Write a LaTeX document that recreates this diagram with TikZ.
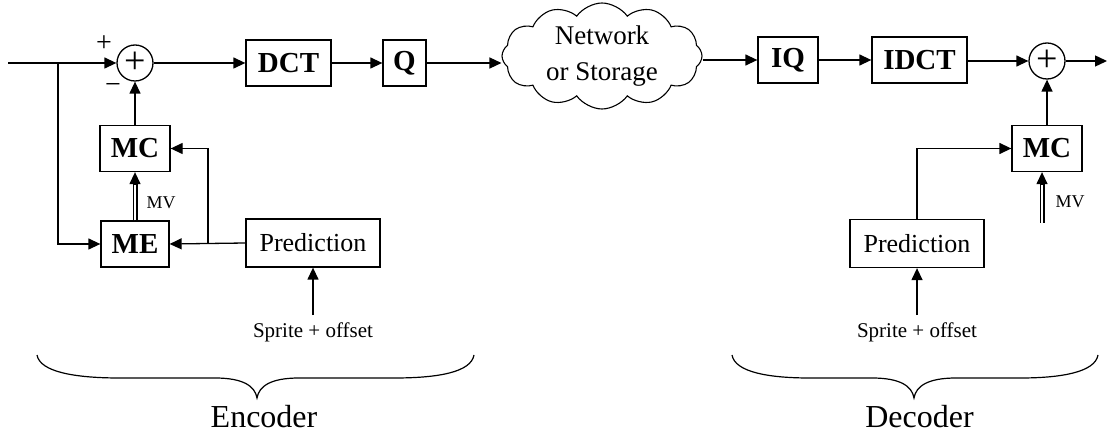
\documentclass[tikz,border=0pt]{standalone}
\usepackage{fontspec}
\setmainfont{Liberation Serif}
\usetikzlibrary{arrows.meta,shapes.symbols}
\begin{document}
\begin{tikzpicture}[x=1pt,y=-1pt,
  box/.style={draw,line width=1.3pt,inner sep=0pt,minimum height=46pt,font=\fontsize{29}{30}\selectfont\bfseries},
  pbox/.style={draw,line width=1.3pt,inner sep=0pt,minimum width=134pt,minimum height=48pt,font=\fontsize{26}{28}\selectfont},
  sumnode/.style={draw,circle,line width=1.3pt,minimum size=36pt,inner sep=0pt,font=\fontsize{38}{38}\selectfont},
  arr/.style={line width=1.3pt,-{Triangle[length=12pt,width=11pt]}},
  ln/.style={line width=1.2pt},
  dbl/.style={double,double distance=2.6pt,line width=1.2pt},
  small/.style={font=\fontsize{18}{20}\selectfont},
  sprite/.style={font=\fontsize{21}{22}\selectfont,anchor=base},
  big/.style={font=\fontsize{32}{34}\selectfont,anchor=base},
  sign/.style={font=\fontsize{28}{28}\selectfont}
]
\useasboundingbox (0,0) rectangle (1107,435);

% encoder
\node[sumnode] (es) at (135,63) {+};
\node[box,minimum width=85pt] (dct) at (288.5,63) {DCT};
\node[box,minimum width=43pt] (q) at (404.5,63) {Q};
\node[cloud,cloud puffs=12,cloud puff arc=110,cloud ignores aspect,draw,line width=1.1pt,
      minimum width=200pt,minimum height=106pt,
      align=center,inner sep=0pt,font=\fontsize{27}{36}\selectfont] (net) at (602,56) {Network\\or Storage};
\node[box,minimum width=70pt] (emc) at (135,148.5) {MC};
\node[box,minimum width=68pt] (eme) at (135,244) {ME};
\node[pbox] (epred) at (313,243) {Prediction};

\coordinate (in) at (8,63);
\coordinate (br) at (58,63);
\coordinate (ebr) at (208,243);
\coordinate (esp) at (313,315);

\draw[arr] (in) -- (es.west);
\draw[arr] (br) |- (eme.west);
\draw[arr] (emc.north) -- (es.south);
\draw[arr] (es.east) -- (dct.west);
\draw[arr] (dct.east) -- (q.west);
\draw[arr] (q.east) -- (q.east -| net.west);
\draw[arr] (epred.west) -- (eme.east);
\draw[arr] (ebr) |- (emc.east);
\draw[dbl] (eme.north) -- ([yshift=-8pt]emc.south);
\draw[arr] ([yshift=-12pt]emc.south) -- (emc.south);
\draw[arr] (esp) -- (epred.south);

\node[sign] at (104,44) {+};
\node[sign] at (113,89) {−};
\node[small] at (161,203) {MV};
\node[sprite] at (313,337) {Sprite + offset};

% decoder
\node[box,minimum width=60pt] (iq) at (788,60) {IQ};
\node[box,minimum width=95pt] (idct) at (919.5,60) {IDCT};
\node[sumnode] (ds) at (1047,61) {+};
\node[box,minimum width=70pt] (dmc) at (1047,148.5) {MC};
\node[pbox] (dpred) at (917,243.5) {Prediction};

\coordinate (out) at (1107,61);
\coordinate (dmv) at (1042,223);
\coordinate (dsp) at (917,315);

\draw[arr] (net.east |- iq) -- (iq.west);
\draw[arr] (iq.east) -- (idct.west);
\draw[arr] (idct.east |- ds) -- (ds.west);
\draw[arr] (ds.east) -- (out);
\draw[arr] (dmc.north) -- (ds.south);
\draw[arr] (dpred.north) |- (dmc.west);
\draw[dbl] (dmv) -- ([yshift=-8pt]dmv |- dmc.south);
\draw[arr] ([yshift=-12pt]dmv |- dmc.south) -- (dmv |- dmc.south);
\draw[arr] (dsp) -- (dpred.south);

\node[small] at (1070,202) {MV};
\node[sprite] at (917,337) {Sprite + offset};

% braces
\draw[ln] (37,355) .. controls (40,372) and (75,378) .. (120,378) -- (215,378)
  .. controls (243,378) and (255,386) .. (257,398)
  .. controls (259,386) and (271,378) .. (299,378) -- (394,378)
  .. controls (439,378) and (471,372) .. (474,355);
\draw[ln] (732,355) .. controls (735,372) and (768,378) .. (810,378) -- (872,378)
  .. controls (900,378) and (912,386) .. (914,398)
  .. controls (916,386) and (928,378) .. (956,378) -- (1020,378)
  .. controls (1062,378) and (1095,372) .. (1098,355);

\node[big] at (264,427) {Encoder};
\node[big] at (919.5,427) {Decoder};
\end{tikzpicture}
\end{document}
